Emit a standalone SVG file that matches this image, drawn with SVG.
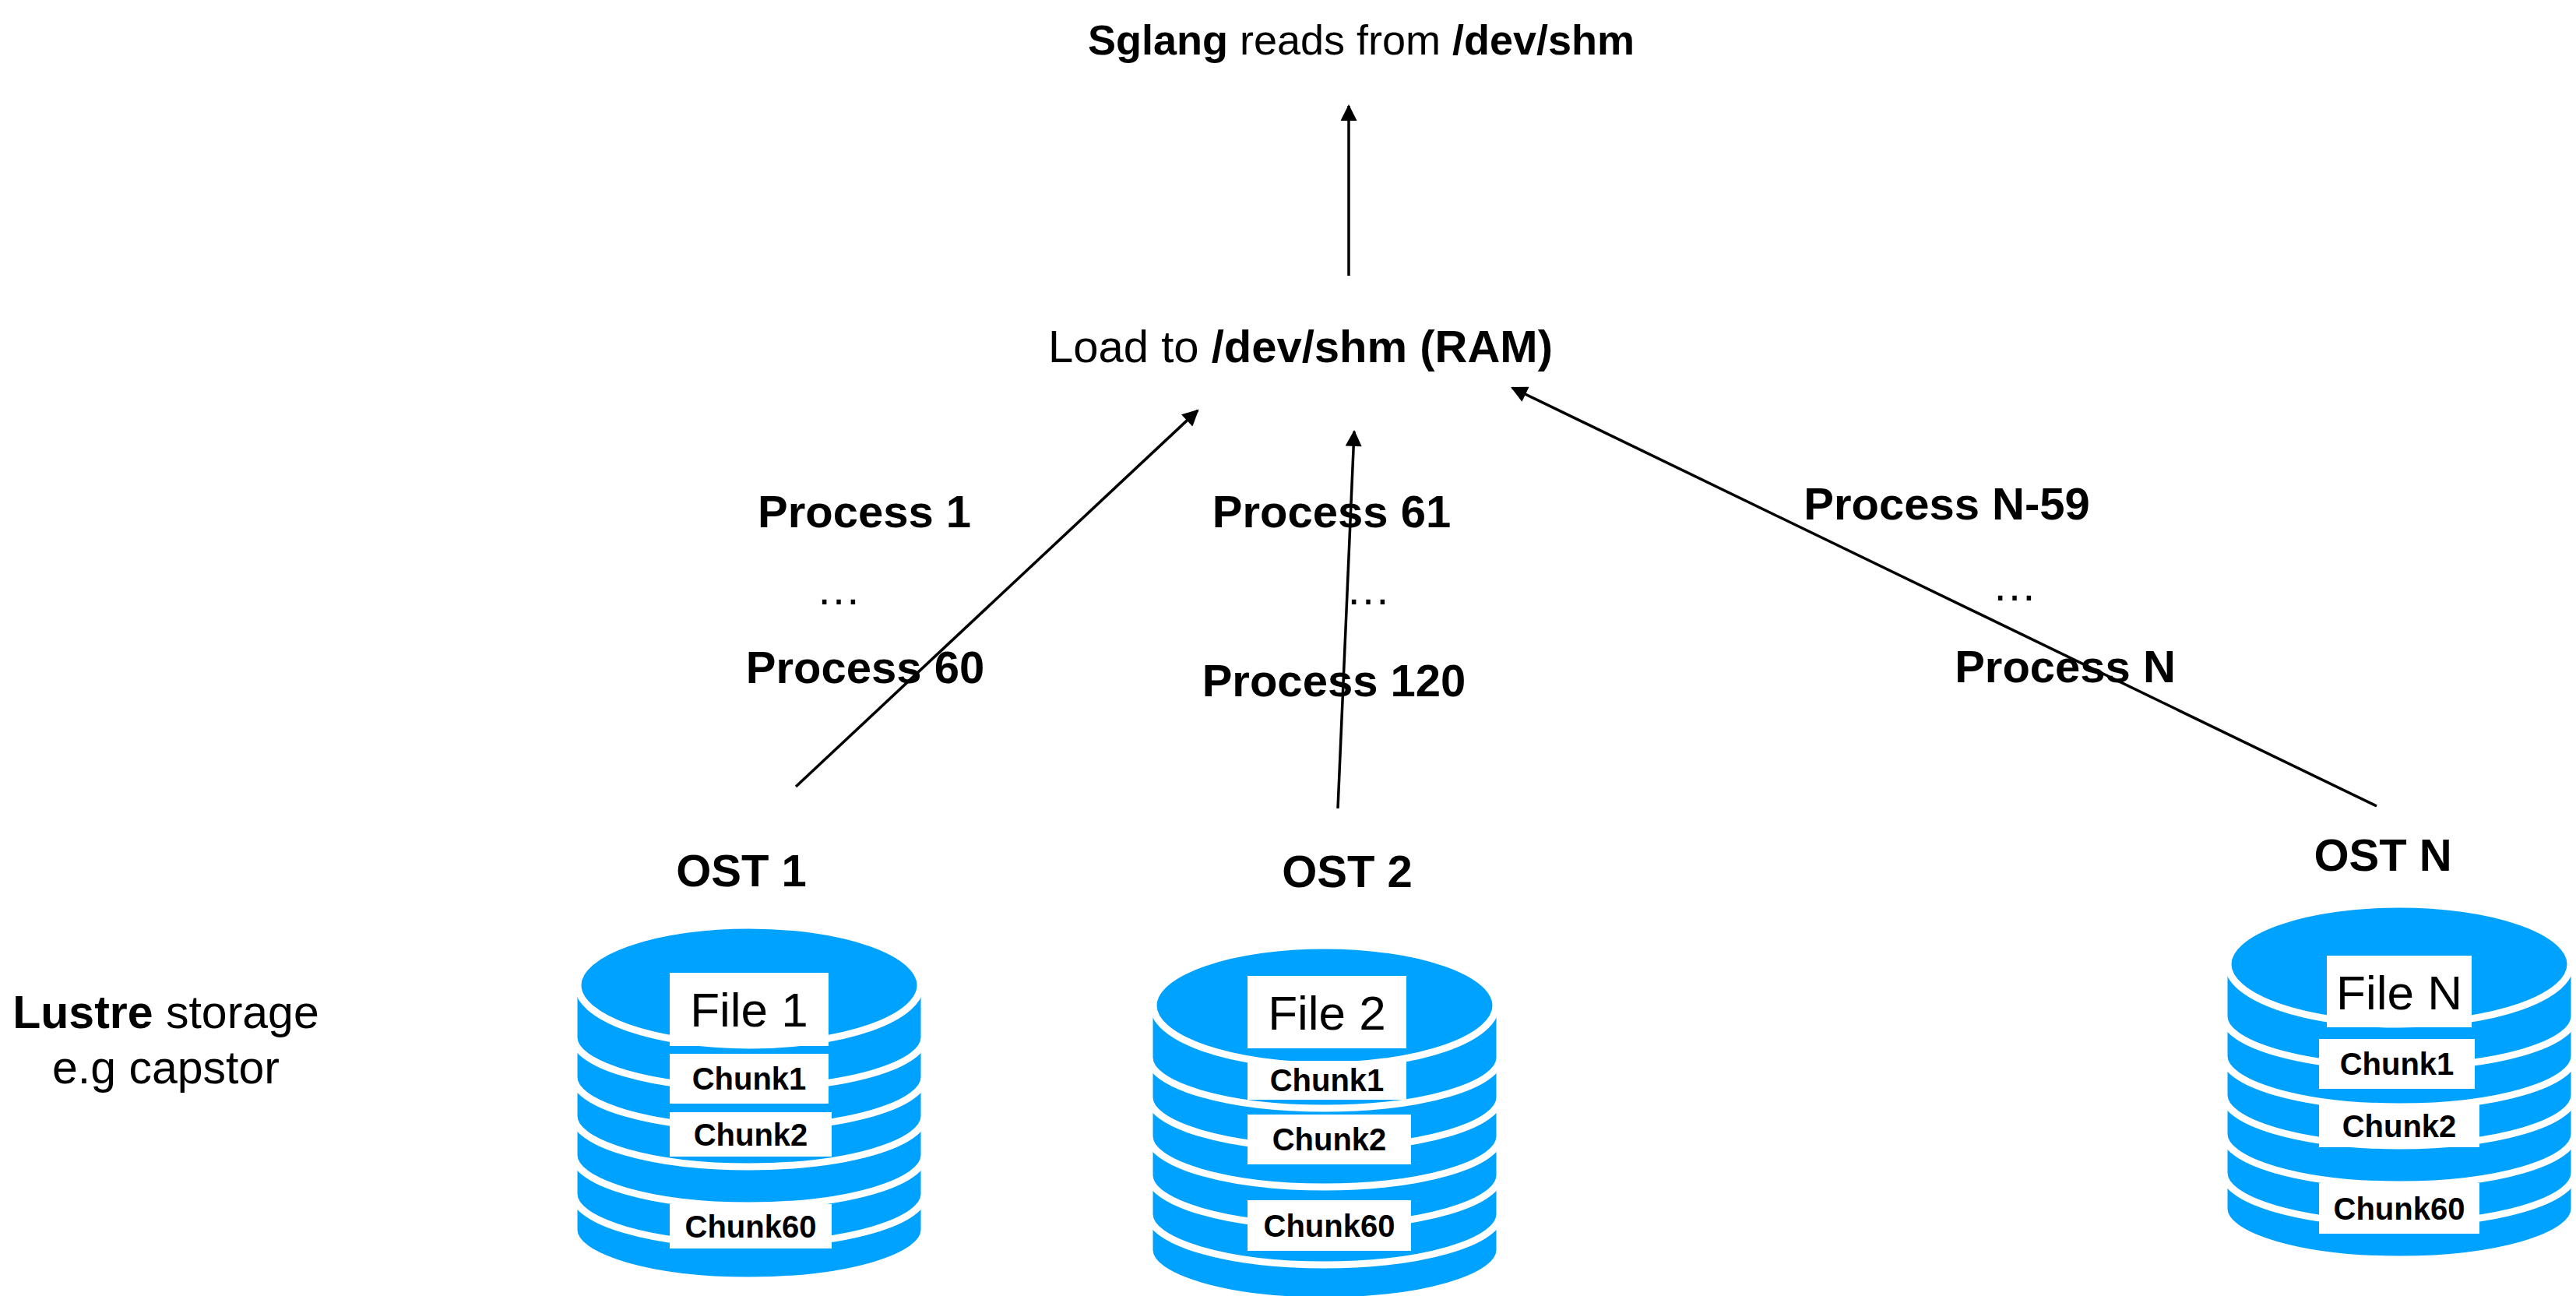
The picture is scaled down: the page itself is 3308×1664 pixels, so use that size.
<svg xmlns="http://www.w3.org/2000/svg" width="3308" height="1664" viewBox="0 0 3308 1664">
<style>
text{font-family:"Liberation Sans",Arial,sans-serif;fill:#000}
.b{font-weight:bold}
.lay{fill:#00a2ff;stroke:#fff;stroke-width:9}
.lbl{fill:#fff}
.ft{font-size:62px;text-anchor:middle}
.ck{font-size:40px;font-weight:bold;text-anchor:middle}
.pr{font-size:58px;font-weight:bold;text-anchor:middle}
.dots{font-size:58px;text-anchor:middle}
.ost{font-size:58px;font-weight:bold;text-anchor:middle}
.con{stroke:#000;stroke-width:3.5;fill:none;marker-end:url(#ah)}
</style>
<defs>
<marker id="ah" viewBox="0 0 10 10" refX="9" refY="5" markerWidth="7" markerHeight="6" markerUnits="strokeWidth" orient="auto"><path d="M0,0 L10,5 L0,10 Z" fill="#000"/></marker>
<g id="cyl">
<path class="lay" d="M0,78 V392 A225 65 0 0 0 450,392 V78 Z"/>
<path class="lay" d="M0,78 V346 A225 65 0 0 0 450,346 V78 Z"/>
<path class="lay" d="M0,78 V296 A225 65 0 0 0 450,296 V78 Z"/>
<path class="lay" d="M0,78 V246 A225 65 0 0 0 450,246 V78 Z"/>
<path class="lay" d="M0,78 V196 A225 65 0 0 0 450,196 V78 Z"/>
<path class="lay" d="M0,78 V145 A225 65 0 0 0 450,145 V78 Z"/>
<ellipse class="lay" cx="225" cy="78" rx="220" ry="77"/>
</g>
</defs>

<g id="title"><text x="1748" y="70" style="font-size:54px;text-anchor:middle"><tspan class="b">Sglang</tspan> reads from <tspan class="b">/dev/shm</tspan></text></g>
<g id="ram"><text x="1670" y="465" style="font-size:58px;text-anchor:middle">Load to <tspan class="b">/dev/shm (RAM)</tspan></text></g>
<g id="lustre">
<text x="213" y="1320" style="font-size:59px;text-anchor:middle"><tspan class="b">Lustre</tspan> storage</text>
<text x="213" y="1391" style="font-size:59px;text-anchor:middle">e.g capstor</text>
</g>

<g id="connectors">
<line class="con" x1="1732" y1="354" x2="1732" y2="136"/>
<line class="con" x1="1022" y1="1010" x2="1538" y2="527"/>
<line class="con" x1="1718" y1="1038" x2="1739" y2="554"/>
<line class="con" x1="3052" y1="1035" x2="1942" y2="498"/>
</g>

<g id="labels">
<text class="pr" x="1110" y="677">Process 1</text>
<text class="dots" x="1077" y="776">…</text>
<text class="pr" x="1111" y="877">Process 60</text>
<text class="pr" x="1710" y="677">Process 61</text>
<text class="dots" x="1757" y="776">…</text>
<text class="pr" x="1713" y="894">Process 120</text>
<text class="pr" x="2500" y="667">Process N-59</text>
<text class="dots" x="2587" y="771">…</text>
<text class="pr" x="2652" y="876">Process N</text>
</g>

<g id="ost1">
<text class="ost" x="952" y="1138">OST 1</text>
<use href="#cyl" x="737" y="1187"/>
<rect class="lbl" x="860" y="1249" width="204" height="94"/><text class="ft" x="962" y="1318">File 1</text>
<rect class="lbl" x="860" y="1353" width="204" height="64"/><text class="ck" x="962" y="1399">Chunk1</text>
<rect class="lbl" x="860" y="1428" width="208" height="57"/><text class="ck" x="964" y="1471">Chunk2</text>
<rect class="lbl" x="860" y="1546" width="208" height="57"/><text class="ck" x="964" y="1589">Chunk60</text>
</g>

<g id="ost2">
<text class="ost" x="1730" y="1139">OST 2</text>
<use href="#cyl" x="1476" y="1213"/>
<rect class="lbl" x="1602" y="1253" width="204" height="93"/><text class="ft" x="1704" y="1322">File 2</text>
<rect class="lbl" x="1602" y="1362" width="204" height="50"/><text class="ck" x="1704" y="1401">Chunk1</text>
<rect class="lbl" x="1602" y="1431" width="210" height="64"/><text class="ck" x="1707" y="1477">Chunk2</text>
<rect class="lbl" x="1602" y="1541" width="210" height="65"/><text class="ck" x="1707" y="1588">Chunk60</text>
</g>

<g id="ostN">
<text class="ost" x="3060" y="1118">OST N</text>
<use href="#cyl" x="2856" y="1160"/>
<rect class="lbl" x="2988" y="1227" width="186" height="92"/><text class="ft" x="3081" y="1296">File N</text>
<rect class="lbl" x="2978" y="1334" width="200" height="64"/><text class="ck" x="3078" y="1380">Chunk1</text>
<rect class="lbl" x="2978" y="1418" width="206" height="55"/><text class="ck" x="3081" y="1460">Chunk2</text>
<rect class="lbl" x="2978" y="1519" width="206" height="65"/><text class="ck" x="3081" y="1566">Chunk60</text>
</g>
</svg>
